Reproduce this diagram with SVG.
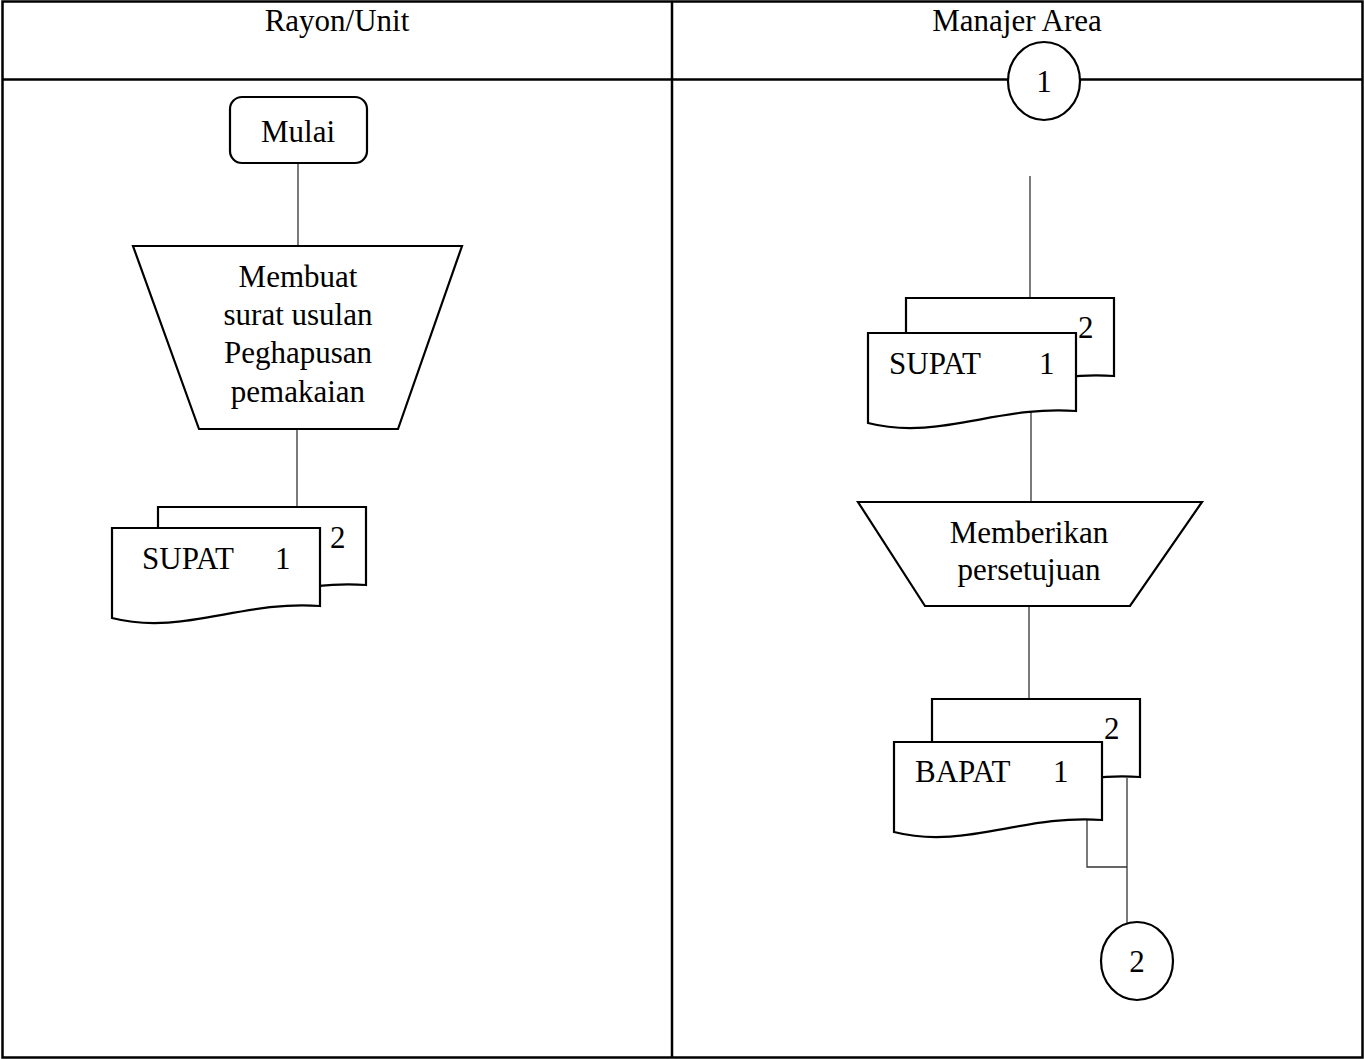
<svg xmlns="http://www.w3.org/2000/svg" xmlns:xlink="http://www.w3.org/1999/xlink" width="1364" height="1059" viewBox="0 0 1364 1059" font-family="'Liberation Serif', 'Times New Roman', Times, serif" font-size="31">
  <style>
    text { font-family: 'Liberation Serif', 'Times New Roman', Times, serif; font-size: 31px; fill: #000; }
    .mid { text-anchor: middle; }
    .grid { fill: none; stroke: #000; stroke-width: 2.5; }
    .shape { fill: #fff; stroke: #000; stroke-width: 2.2; stroke-linejoin: miter; }
    .link { fill: none; stroke: #333; stroke-width: 1.3; }
  </style>
  <defs>
    <!-- single document page with a wavy lower edge, 208 wide -->
    <path id="page" d="M0 0 H208 V78 C130 72 70 108 0 90 Z"/>
  </defs>

  <!-- swimlane table -->
  <g id="table">
    <rect class="grid" x="2.5" y="1.5" width="1360" height="1056"/>
    <line class="grid" x1="2.5" y1="79.5" x2="1362.5" y2="79.5"/>
    <line class="grid" x1="672" y1="1.5" x2="672" y2="1057.5"/>
    <text class="mid" x="337" y="31">Rayon/Unit</text>
    <text class="mid" x="1017" y="31">Manajer Area</text>
  </g>

  <!-- connectors -->
  <g id="connectors">
    <line class="link" x1="298" y1="163" x2="298" y2="246"/>
    <line class="link" x1="297" y1="429" x2="297" y2="507"/>
    <line class="link" x1="1030" y1="176" x2="1030" y2="298"/>
    <line class="link" x1="1031" y1="412" x2="1031" y2="502"/>
    <line class="link" x1="1029" y1="606" x2="1029" y2="699"/>
    <polyline class="link" points="1127,778 1127,923"/>
    <polyline class="link" points="1087,820 1087,867 1127,867"/>
  </g>

  <g id="mulai">
    <rect class="shape" x="230" y="97" width="137" height="66" rx="12" ry="12"/>
    <text class="mid" x="298" y="142">Mulai</text>
  </g>

  <g id="membuat-surat">
    <polygon class="shape" points="133,246 462,246 398,429 199,429"/>
    <text class="mid" x="298" y="287">Membuat</text>
    <text class="mid" x="298" y="325">surat usulan</text>
    <text class="mid" x="298" y="363">Peghapusan</text>
    <text class="mid" x="298" y="402">pemakaian</text>
  </g>

  <g id="supat-rayon">
    <use href="#page" xlink:href="#page" class="shape" transform="translate(158 507)"/>
    <text x="330" y="548">2</text>
    <use href="#page" xlink:href="#page" class="shape" transform="translate(112 528)"/>
    <text x="142" y="569">SUPAT</text>
    <text x="275" y="569">1</text>
  </g>

  <g id="off-page-1">
    <ellipse class="shape" cx="1044" cy="81" rx="36" ry="39"/>
    <text class="mid" x="1044" y="92">1</text>
  </g>

  <g id="supat-manajer">
    <use href="#page" xlink:href="#page" class="shape" transform="translate(906 298)"/>
    <text x="1078" y="338">2</text>
    <use href="#page" xlink:href="#page" class="shape" transform="translate(868 333)"/>
    <text x="889" y="374">SUPAT</text>
    <text x="1039" y="374">1</text>
  </g>

  <g id="memberikan-persetujuan">
    <polygon class="shape" points="858,502 1202,502 1130,606 925,606"/>
    <text class="mid" x="1029" y="543">Memberikan</text>
    <text class="mid" x="1029" y="580">persetujuan</text>
  </g>

  <g id="bapat">
    <use href="#page" xlink:href="#page" class="shape" transform="translate(932 699)"/>
    <text x="1104" y="739">2</text>
    <use href="#page" xlink:href="#page" class="shape" transform="translate(894 742)"/>
    <text x="915" y="782">BAPAT</text>
    <text x="1053" y="782">1</text>
  </g>

  <g id="off-page-2">
    <ellipse class="shape" cx="1137" cy="961" rx="36" ry="39"/>
    <text class="mid" x="1137" y="972">2</text>
  </g>
</svg>
